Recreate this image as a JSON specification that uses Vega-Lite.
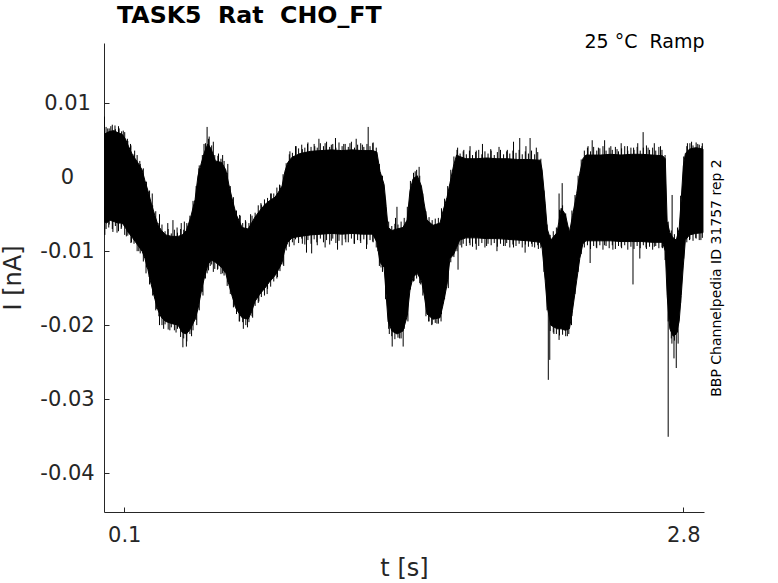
{
  "$schema": "https://vega.github.io/schema/vega-lite/v6.json",
  "autosize": {"type": "none"},
  "width": 600,
  "height": 469,
  "padding": {"left": 104, "top": 43, "right": 74, "bottom": 71},
  "background": "white",
  "config": {"view": {"stroke": null}, "font": "DejaVu Sans"},
  "title": {"text": "TASK5\u00a0 Rat\u00a0 CHO_FT", "anchor": "start", "frame": "group", "dx": 13, "fontSize": 23.7, "fontWeight": "bold", "font": "DejaVu Sans", "color": "black", "offset": -15, "baseline": "alphabetic"},
  "datasets": {
    "band": [
      {"t":0.003,"lo":-0.0060,"hi":0.0058},{"t":0.015,"lo":-0.0062,"hi":0.0060},{"t":0.03,"lo":-0.0058,"hi":0.0062},{"t":0.05,"lo":-0.0060,"hi":0.0063},{"t":0.07,"lo":-0.0062,"hi":0.0060},{"t":0.09,"lo":-0.0062,"hi":0.0058},{"t":0.105,"lo":-0.0068,"hi":0.0052},{"t":0.12,"lo":-0.0075,"hi":0.0042},{"t":0.14,"lo":-0.0082,"hi":0.0030},{"t":0.16,"lo":-0.0090,"hi":0.0022},{"t":0.186,"lo":-0.0100,"hi":0.0010},{"t":0.20,"lo":-0.0110,"hi":-0.0005},{"t":0.214,"lo":-0.0125,"hi":-0.0018},{"t":0.23,"lo":-0.0145,"hi":-0.0035},{"t":0.248,"lo":-0.0165,"hi":-0.0052},{"t":0.263,"lo":-0.0180,"hi":-0.0065},{"t":0.28,"lo":-0.0190,"hi":-0.0072},{"t":0.30,"lo":-0.0195,"hi":-0.0078},{"t":0.33,"lo":-0.0198,"hi":-0.0080},{"t":0.36,"lo":-0.0200,"hi":-0.0080},{"t":0.38,"lo":-0.0210,"hi":-0.0078},{"t":0.40,"lo":-0.0212,"hi":-0.0072},{"t":0.42,"lo":-0.0205,"hi":-0.0055},{"t":0.442,"lo":-0.0192,"hi":-0.0030},{"t":0.456,"lo":-0.0178,"hi":0.0002},{"t":0.475,"lo":-0.0150,"hi":0.0022},{"t":0.49,"lo":-0.0132,"hi":0.0036},{"t":0.504,"lo":-0.0118,"hi":0.0045},{"t":0.52,"lo":-0.0112,"hi":0.0038},{"t":0.54,"lo":-0.0115,"hi":0.0022},{"t":0.57,"lo":-0.0122,"hi":0.0020},{"t":0.59,"lo":-0.0130,"hi":0.0010},{"t":0.605,"lo":-0.0145,"hi":-0.0010},{"t":0.62,"lo":-0.0160,"hi":-0.0028},{"t":0.64,"lo":-0.0178,"hi":-0.0050},{"t":0.669,"lo":-0.0190,"hi":-0.0068},{"t":0.698,"lo":-0.0192,"hi":-0.0070},{"t":0.715,"lo":-0.0182,"hi":-0.0062},{"t":0.731,"lo":-0.0168,"hi":-0.0054},{"t":0.755,"lo":-0.0158,"hi":-0.0045},{"t":0.779,"lo":-0.0150,"hi":-0.0037},{"t":0.80,"lo":-0.0142,"hi":-0.0032},{"t":0.828,"lo":-0.0133,"hi":-0.0027},{"t":0.845,"lo":-0.0125,"hi":-0.0020},{"t":0.862,"lo":-0.0115,"hi":-0.0012},{"t":0.876,"lo":-0.0097,"hi":0.0008},{"t":0.89,"lo":-0.0088,"hi":0.0020},{"t":0.91,"lo":-0.0082,"hi":0.0027},{"t":0.949,"lo":-0.0080,"hi":0.0032},{"t":1.0,"lo":-0.0078,"hi":0.0035},{"t":1.05,"lo":-0.0077,"hi":0.0036},{"t":1.1,"lo":-0.0076,"hi":0.0037},{"t":1.15,"lo":-0.0077,"hi":0.0036},{"t":1.2,"lo":-0.0076,"hi":0.0037},{"t":1.25,"lo":-0.0077,"hi":0.0036},{"t":1.30,"lo":-0.0077,"hi":0.0036},{"t":1.32,"lo":-0.0088,"hi":0.0034},{"t":1.335,"lo":-0.0115,"hi":0.0008},{"t":1.355,"lo":-0.0122,"hi":-0.0010},{"t":1.365,"lo":-0.0160,"hi":-0.0040},{"t":1.374,"lo":-0.0195,"hi":-0.0068},{"t":1.393,"lo":-0.0208,"hi":-0.0072},{"t":1.417,"lo":-0.0212,"hi":-0.0070},{"t":1.446,"lo":-0.0208,"hi":-0.0068},{"t":1.466,"lo":-0.0188,"hi":-0.0058},{"t":1.48,"lo":-0.0152,"hi":-0.0018},{"t":1.495,"lo":-0.0135,"hi":-0.0002},{"t":1.515,"lo":-0.0130,"hi":0.0002},{"t":1.535,"lo":-0.0140,"hi":-0.0012},{"t":1.548,"lo":-0.0158,"hi":-0.0035},{"t":1.562,"lo":-0.0185,"hi":-0.0058},{"t":1.591,"lo":-0.0192,"hi":-0.0065},{"t":1.625,"lo":-0.0190,"hi":-0.0062},{"t":1.64,"lo":-0.0172,"hi":-0.0045},{"t":1.659,"lo":-0.0145,"hi":-0.0027},{"t":1.673,"lo":-0.0110,"hi":-0.0008},{"t":1.69,"lo":-0.0105,"hi":0.0015},{"t":1.705,"lo":-0.0095,"hi":0.0030},{"t":1.72,"lo":-0.0085,"hi":0.0028},{"t":1.75,"lo":-0.0082,"hi":0.0025},{"t":1.8,"lo":-0.0082,"hi":0.0025},{"t":1.85,"lo":-0.0083,"hi":0.0026},{"t":1.9,"lo":-0.0083,"hi":0.0025},{"t":1.95,"lo":-0.0084,"hi":0.0025},{"t":2.0,"lo":-0.0085,"hi":0.0024},{"t":2.05,"lo":-0.0086,"hi":0.0024},{"t":2.109,"lo":-0.0088,"hi":0.0023},{"t":2.118,"lo":-0.0095,"hi":0.0010},{"t":2.133,"lo":-0.0140,"hi":-0.0035},{"t":2.143,"lo":-0.0175,"hi":-0.0070},{"t":2.16,"lo":-0.0200,"hi":-0.0085},{"t":2.19,"lo":-0.0205,"hi":-0.0075},{"t":2.21,"lo":-0.0205,"hi":-0.0042},{"t":2.23,"lo":-0.0207,"hi":-0.0050},{"t":2.25,"lo":-0.0205,"hi":-0.0075},{"t":2.265,"lo":-0.0180,"hi":-0.0052},{"t":2.285,"lo":-0.0140,"hi":-0.0022},{"t":2.30,"lo":-0.0110,"hi":0.0005},{"t":2.315,"lo":-0.0090,"hi":0.0025},{"t":2.33,"lo":-0.0086,"hi":0.0030},{"t":2.4,"lo":-0.0086,"hi":0.0030},{"t":2.45,"lo":-0.0086,"hi":0.0031},{"t":2.5,"lo":-0.0087,"hi":0.0030},{"t":2.55,"lo":-0.0087,"hi":0.0031},{"t":2.6,"lo":-0.0087,"hi":0.0031},{"t":2.65,"lo":-0.0088,"hi":0.0030},{"t":2.7,"lo":-0.0088,"hi":0.0029},{"t":2.713,"lo":-0.0100,"hi":0.0025},{"t":2.722,"lo":-0.0160,"hi":-0.0060},{"t":2.735,"lo":-0.0205,"hi":-0.0075},{"t":2.751,"lo":-0.0215,"hi":-0.0082},{"t":2.766,"lo":-0.0212,"hi":-0.0085},{"t":2.78,"lo":-0.0195,"hi":-0.0070},{"t":2.79,"lo":-0.0160,"hi":-0.0030},{"t":2.80,"lo":-0.0120,"hi":0.0015},{"t":2.81,"lo":-0.0085,"hi":0.0032},{"t":2.83,"lo":-0.0078,"hi":0.0038},{"t":2.86,"lo":-0.0076,"hi":0.0040},{"t":2.895,"lo":-0.0075,"hi":0.0038}
    ],
    "noise": [
      {"t":0.012,"a":0.0068,"b":-0.0070},{"t":0.027,"a":0.0066,"b":-0.0064},{"t":0.042,"a":0.0071,"b":-0.0070},{"t":0.057,"a":0.0065,"b":-0.0066},{"t":0.072,"a":0.0069,"b":-0.0073},{"t":0.087,"a":0.0062,"b":-0.0068},{"t":0.102,"a":0.0061,"b":-0.0078},{"t":0.117,"a":0.0049,"b":-0.0079},{"t":0.132,"a":0.0043,"b":-0.0089},{"t":0.147,"a":0.0031,"b":-0.0090},{"t":0.162,"a":0.0030,"b":-0.0100},{"t":0.177,"a":0.0018,"b":-0.0103},{"t":0.192,"a":0.0012,"b":-0.0114},{"t":0.207,"a":-0.0006,"b":-0.0122},{"t":0.222,"a":-0.0018,"b":-0.0145},{"t":0.237,"a":-0.0038,"b":-0.0160},{"t":0.252,"a":-0.0046,"b":-0.0180},{"t":0.267,"a":-0.0062,"b":-0.0188},{"t":0.282,"a":-0.0064,"b":-0.0200},{"t":0.297,"a":-0.0073,"b":-0.0199},{"t":0.312,"a":-0.0070,"b":-0.0206},{"t":0.327,"a":-0.0076,"b":-0.0203},{"t":0.342,"a":-0.0071,"b":-0.0207},{"t":0.357,"a":-0.0075,"b":-0.0205},{"t":0.372,"a":-0.0070,"b":-0.0216},{"t":0.387,"a":-0.0071,"b":-0.0218},{"t":0.402,"a":-0.0062,"b":-0.0222},{"t":0.417,"a":-0.0052,"b":-0.0212},{"t":0.432,"a":-0.0032,"b":-0.0207},{"t":0.447,"a":-0.0012,"b":-0.0193},{"t":0.462,"a":0.0016,"b":-0.0180},{"t":0.477,"a":0.0030,"b":-0.0155},{"t":0.492,"a":0.0046,"b":-0.0137},{"t":0.507,"a":0.0052,"b":-0.0126},{"t":0.522,"a":0.0043,"b":-0.0118},{"t":0.537,"a":0.0030,"b":-0.0124},{"t":0.552,"a":0.0029,"b":-0.0124},{"t":0.567,"a":0.0025,"b":-0.0131},{"t":0.582,"a":0.0022,"b":-0.0133},{"t":0.597,"a":0.0006,"b":-0.0147},{"t":0.612,"a":-0.0012,"b":-0.0158},{"t":0.627,"a":-0.0027,"b":-0.0176},{"t":0.642,"a":-0.0045,"b":-0.0185},{"t":0.657,"a":-0.0051,"b":-0.0195},{"t":0.672,"a":-0.0062,"b":-0.0196},{"t":0.687,"a":-0.0060,"b":-0.0200},{"t":0.702,"a":-0.0062,"b":-0.0196},{"t":0.717,"a":-0.0052,"b":-0.0188},{"t":0.732,"a":-0.0048,"b":-0.0174},{"t":0.747,"a":-0.0038,"b":-0.0170},{"t":0.762,"a":-0.0037,"b":-0.0162},{"t":0.777,"a":-0.0030,"b":-0.0160},{"t":0.792,"a":-0.0028,"b":-0.0151},{"t":0.807,"a":-0.0022,"b":-0.0148},{"t":0.822,"a":-0.0022,"b":-0.0141},{"t":0.837,"a":-0.0014,"b":-0.0137},{"t":0.852,"a":-0.0011,"b":-0.0127},{"t":0.867,"a":0.0004,"b":-0.0118},{"t":0.882,"a":0.0019,"b":-0.0099},{"t":0.897,"a":0.0031,"b":-0.0094},{"t":0.912,"a":0.0033,"b":-0.0088},{"t":0.927,"a":0.0042,"b":-0.0084},{"t":0.942,"a":0.0039,"b":-0.0089},{"t":0.957,"a":0.0044,"b":-0.0083},{"t":0.972,"a":0.0040,"b":-0.0091},{"t":0.987,"a":0.0047,"b":-0.0085},{"t":1.002,"a":0.0041,"b":-0.0090},{"t":1.017,"a":0.0045,"b":-0.0084},{"t":1.032,"a":0.0040,"b":-0.0092},{"t":1.047,"a":0.0046,"b":-0.0083},{"t":1.062,"a":0.0042,"b":-0.0088},{"t":1.077,"a":0.0048,"b":-0.0085},{"t":1.092,"a":0.0041,"b":-0.0091},{"t":1.107,"a":0.0045,"b":-0.0083},{"t":1.122,"a":0.0040,"b":-0.0089},{"t":1.137,"a":0.0047,"b":-0.0086},{"t":1.152,"a":0.0042,"b":-0.0092},{"t":1.167,"a":0.0045,"b":-0.0084},{"t":1.182,"a":0.0041,"b":-0.0088},{"t":1.197,"a":0.0048,"b":-0.0083},{"t":1.212,"a":0.0040,"b":-0.0090},{"t":1.227,"a":0.0044,"b":-0.0085},{"t":1.242,"a":0.0046,"b":-0.0089},{"t":1.257,"a":0.0041,"b":-0.0084},{"t":1.272,"a":0.0045,"b":-0.0091},{"t":1.287,"a":0.0042,"b":-0.0085},{"t":1.302,"a":0.0047,"b":-0.0088},{"t":1.317,"a":0.0040,"b":-0.0095},{"t":1.332,"a":0.0018,"b":-0.0120},{"t":1.347,"a":0.0002,"b":-0.0128},{"t":1.362,"a":-0.0030,"b":-0.0165},{"t":1.377,"a":-0.0060,"b":-0.0205},{"t":1.392,"a":-0.0066,"b":-0.0215},{"t":1.407,"a":-0.0063,"b":-0.0219},{"t":1.422,"a":-0.0064,"b":-0.0217},{"t":1.437,"a":-0.0060,"b":-0.0218},{"t":1.452,"a":-0.0055,"b":-0.0205},{"t":1.467,"a":-0.0040,"b":-0.0186},{"t":1.482,"a":-0.0005,"b":-0.0152},{"t":1.497,"a":0.0006,"b":-0.0141},{"t":1.512,"a":0.0010,"b":-0.0137},{"t":1.527,"a":0.0002,"b":-0.0143},{"t":1.542,"a":-0.0022,"b":-0.0160},{"t":1.557,"a":-0.0046,"b":-0.0188},{"t":1.572,"a":-0.0054,"b":-0.0195},{"t":1.587,"a":-0.0058,"b":-0.0199},{"t":1.602,"a":-0.0056,"b":-0.0197},{"t":1.617,"a":-0.0055,"b":-0.0198},{"t":1.632,"a":-0.0042,"b":-0.0185},{"t":1.647,"a":-0.0029,"b":-0.0165},{"t":1.662,"a":-0.0012,"b":-0.0138},{"t":1.677,"a":0.0010,"b":-0.0115},{"t":1.692,"a":0.0028,"b":-0.0108},{"t":1.707,"a":0.0037,"b":-0.0100},{"t":1.722,"a":0.0032,"b":-0.0092},{"t":1.737,"a":0.0035,"b":-0.0090},{"t":1.752,"a":0.0031,"b":-0.0093},{"t":1.767,"a":0.0036,"b":-0.0089},{"t":1.782,"a":0.0030,"b":-0.0094},{"t":1.797,"a":0.0034,"b":-0.0090},{"t":1.812,"a":0.0037,"b":-0.0093},{"t":1.827,"a":0.0031,"b":-0.0089},{"t":1.842,"a":0.0035,"b":-0.0095},{"t":1.857,"a":0.0032,"b":-0.0090},{"t":1.872,"a":0.0036,"b":-0.0092},{"t":1.887,"a":0.0030,"b":-0.0089},{"t":1.902,"a":0.0034,"b":-0.0094},{"t":1.917,"a":0.0037,"b":-0.0090},{"t":1.932,"a":0.0031,"b":-0.0093},{"t":1.947,"a":0.0035,"b":-0.0089},{"t":1.962,"a":0.0032,"b":-0.0095},{"t":1.977,"a":0.0036,"b":-0.0091},{"t":1.992,"a":0.0033,"b":-0.0093},{"t":2.007,"a":0.0037,"b":-0.0090},{"t":2.022,"a":0.0031,"b":-0.0095},{"t":2.037,"a":0.0035,"b":-0.0091},{"t":2.052,"a":0.0032,"b":-0.0094},{"t":2.067,"a":0.0036,"b":-0.0090},{"t":2.082,"a":0.0031,"b":-0.0095},{"t":2.097,"a":0.0034,"b":-0.0092},{"t":2.112,"a":0.0025,"b":-0.0096},{"t":2.127,"a":-0.0018,"b":-0.0128},{"t":2.142,"a":-0.0064,"b":-0.0180},{"t":2.157,"a":-0.0078,"b":-0.0208},{"t":2.172,"a":-0.0073,"b":-0.0210},{"t":2.187,"a":-0.0068,"b":-0.0212},{"t":2.202,"a":-0.0044,"b":-0.0214},{"t":2.217,"a":-0.0038,"b":-0.0213},{"t":2.232,"a":-0.0049,"b":-0.0215},{"t":2.247,"a":-0.0068,"b":-0.0212},{"t":2.262,"a":-0.0045,"b":-0.0188},{"t":2.277,"a":-0.0024,"b":-0.0158},{"t":2.292,"a":0.0002,"b":-0.0128},{"t":2.307,"a":0.0024,"b":-0.0104},{"t":2.322,"a":0.0036,"b":-0.0095},{"t":2.337,"a":0.0040,"b":-0.0092},{"t":2.352,"a":0.0035,"b":-0.0097},{"t":2.367,"a":0.0041,"b":-0.0093},{"t":2.382,"a":0.0036,"b":-0.0096},{"t":2.397,"a":0.0039,"b":-0.0092},{"t":2.412,"a":0.0042,"b":-0.0098},{"t":2.427,"a":0.0036,"b":-0.0093},{"t":2.442,"a":0.0040,"b":-0.0096},{"t":2.457,"a":0.0037,"b":-0.0092},{"t":2.472,"a":0.0041,"b":-0.0097},{"t":2.487,"a":0.0035,"b":-0.0093},{"t":2.502,"a":0.0039,"b":-0.0096},{"t":2.517,"a":0.0042,"b":-0.0092},{"t":2.532,"a":0.0036,"b":-0.0098},{"t":2.547,"a":0.0040,"b":-0.0094},{"t":2.562,"a":0.0037,"b":-0.0097},{"t":2.577,"a":0.0041,"b":-0.0093},{"t":2.592,"a":0.0036,"b":-0.0096},{"t":2.607,"a":0.0040,"b":-0.0092},{"t":2.622,"a":0.0043,"b":-0.0097},{"t":2.637,"a":0.0037,"b":-0.0094},{"t":2.652,"a":0.0040,"b":-0.0098},{"t":2.667,"a":0.0036,"b":-0.0093},{"t":2.682,"a":0.0041,"b":-0.0096},{"t":2.697,"a":0.0037,"b":-0.0095},{"t":2.712,"a":0.0030,"b":-0.0112},{"t":2.727,"a":-0.0060,"b":-0.0195},{"t":2.742,"a":-0.0072,"b":-0.0218},{"t":2.757,"a":-0.0077,"b":-0.0221},{"t":2.772,"a":-0.0068,"b":-0.0210},{"t":2.787,"a":-0.0025,"b":-0.0170},{"t":2.802,"a":0.0028,"b":-0.0110},{"t":2.817,"a":0.0042,"b":-0.0088},{"t":2.832,"a":0.0046,"b":-0.0084},{"t":2.847,"a":0.0043,"b":-0.0086},{"t":2.862,"a":0.0047,"b":-0.0083},{"t":2.877,"a":0.0044,"b":-0.0085},{"t":2.892,"a":0.0046,"b":-0.0082}
    ],
    "spikes": [
      {"t":0.004,"a":0.0082,"b":0.004},{"t":0.02,"a":0.0066,"b":0.004},{"t":0.035,"a":0.0069,"b":0.004},{"t":0.055,"a":0.0070,"b":0.004},{"t":0.075,"a":0.0066,"b":0.004},{"t":0.095,"a":0.0063,"b":0.004},{"t":0.115,"a":0.0052,"b":0.003},{"t":0.13,"a":0.0045,"b":0.002},{"t":0.15,"a":0.0036,"b":0.001},{"t":0.175,"a":0.0022,"b":0.0},{"t":0.235,"a":-0.0022,"b":-0.005},{"t":0.27,"a":-0.0050,"b":-0.008},{"t":0.31,"a":-0.0062,"b":-0.009},{"t":0.335,"a":-0.0058,"b":-0.009},{"t":0.355,"a":-0.0068,"b":-0.009},{"t":0.375,"a":-0.0062,"b":-0.009},{"t":0.39,"a":-0.0060,"b":-0.009},{"t":0.46,"a":0.0012,"b":-0.002},{"t":0.485,"a":0.0045,"b":0.001},{"t":0.50,"a":0.0068,"b":0.002},{"t":0.51,"a":0.0055,"b":0.002},{"t":0.53,"a":0.0048,"b":0.001},{"t":0.555,"a":0.0032,"b":0.0},{"t":0.575,"a":0.0030,"b":0.0},{"t":0.60,"a":0.0018,"b":-0.001},{"t":0.66,"a":-0.0052,"b":-0.008},{"t":0.685,"a":-0.0058,"b":-0.008},{"t":0.71,"a":-0.0050,"b":-0.008},{"t":0.76,"a":-0.0035,"b":-0.006},{"t":0.81,"a":-0.0022,"b":-0.005},{"t":0.85,"a":-0.0010,"b":-0.004},{"t":0.90,"a":0.0035,"b":0.0},{"t":0.93,"a":0.0042,"b":0.001},{"t":0.96,"a":0.0038,"b":0.001},{"t":0.985,"a":0.0045,"b":0.001},{"t":1.02,"a":0.0042,"b":0.001},{"t":1.04,"a":0.0052,"b":0.001},{"t":1.07,"a":0.0046,"b":0.001},{"t":1.10,"a":0.0044,"b":0.001},{"t":1.12,"a":0.0053,"b":0.001},{"t":1.16,"a":0.0045,"b":0.001},{"t":1.19,"a":0.0046,"b":0.001},{"t":1.22,"a":0.0052,"b":0.001},{"t":1.25,"a":0.0044,"b":0.001},{"t":1.278,"a":0.0068,"b":0.001},{"t":1.30,"a":0.0046,"b":0.001},{"t":1.417,"a":-0.0040,"b":-0.008},{"t":1.41,"a":-0.0055,"b":-0.008},{"t":1.505,"a":0.0008,"b":-0.002},{"t":1.524,"a":0.0014,"b":-0.002},{"t":1.71,"a":0.0040,"b":0.0},{"t":1.74,"a":0.0037,"b":0.0},{"t":1.77,"a":0.0042,"b":0.0},{"t":1.80,"a":0.0036,"b":0.0},{"t":1.83,"a":0.0045,"b":0.0},{"t":1.87,"a":0.0038,"b":0.0},{"t":1.91,"a":0.0041,"b":0.0},{"t":1.95,"a":0.0037,"b":0.0},{"t":1.98,"a":0.0048,"b":0.0},{"t":2.01,"a":0.0053,"b":0.0},{"t":2.04,"a":0.0042,"b":0.0},{"t":2.06,"a":0.0053,"b":0.0},{"t":2.09,"a":0.0040,"b":0.0},{"t":2.215,"a":-0.0008,"b":-0.005},{"t":2.20,"a":-0.0022,"b":-0.006},{"t":2.34,"a":0.0042,"b":0.001},{"t":2.36,"a":0.0050,"b":0.001},{"t":2.39,"a":0.0040,"b":0.001},{"t":2.42,"a":0.0050,"b":0.001},{"t":2.45,"a":0.0042,"b":0.001},{"t":2.48,"a":0.0038,"b":0.001},{"t":2.50,"a":0.0046,"b":0.001},{"t":2.53,"a":0.0042,"b":0.001},{"t":2.56,"a":0.0040,"b":0.001},{"t":2.58,"a":0.0046,"b":0.001},{"t":2.606,"a":0.0061,"b":0.001},{"t":2.63,"a":0.0040,"b":0.001},{"t":2.66,"a":0.0046,"b":0.001},{"t":2.69,"a":0.0042,"b":0.001},{"t":2.746,"a":-0.0024,"b":-0.008},{"t":2.82,"a":0.0046,"b":0.002},{"t":2.84,"a":0.0048,"b":0.002},{"t":2.87,"a":0.0045,"b":0.002},{"t":2.89,"a":0.0042,"b":0.002},
      {"t":0.006,"a":-0.0078,"b":-0.004},{"t":0.025,"a":-0.0068,"b":-0.004},{"t":0.045,"a":-0.0074,"b":-0.004},{"t":0.065,"a":-0.0075,"b":-0.004},{"t":0.085,"a":-0.0070,"b":-0.004},{"t":0.11,"a":-0.0080,"b":-0.005},{"t":0.135,"a":-0.0088,"b":-0.006},{"t":0.17,"a":-0.0100,"b":-0.007},{"t":0.205,"a":-0.0130,"b":-0.009},{"t":0.22,"a":-0.0135,"b":-0.010},{"t":0.24,"a":-0.0145,"b":-0.012},{"t":0.255,"a":-0.0178,"b":-0.014},{"t":0.27,"a":-0.0200,"b":-0.016},{"t":0.29,"a":-0.0205,"b":-0.017},{"t":0.32,"a":-0.0207,"b":-0.017},{"t":0.35,"a":-0.0210,"b":-0.017},{"t":0.383,"a":-0.0230,"b":-0.018},{"t":0.40,"a":-0.0229,"b":-0.018},{"t":0.425,"a":-0.0215,"b":-0.017},{"t":0.45,"a":-0.0200,"b":-0.016},{"t":0.48,"a":-0.0160,"b":-0.012},{"t":0.50,"a":-0.0130,"b":-0.010},{"t":0.515,"a":-0.0120,"b":-0.009},{"t":0.53,"a":-0.0128,"b":-0.009},{"t":0.55,"a":-0.0125,"b":-0.009},{"t":0.575,"a":-0.0130,"b":-0.010},{"t":0.60,"a":-0.0142,"b":-0.011},{"t":0.63,"a":-0.0175,"b":-0.013},{"t":0.655,"a":-0.0195,"b":-0.016},{"t":0.675,"a":-0.0205,"b":-0.017},{"t":0.695,"a":-0.0203,"b":-0.017},{"t":0.72,"a":-0.0190,"b":-0.016},{"t":0.75,"a":-0.0168,"b":-0.014},{"t":0.79,"a":-0.0158,"b":-0.013},{"t":0.84,"a":-0.0135,"b":-0.011},{"t":0.87,"a":-0.0120,"b":-0.009},{"t":0.92,"a":-0.0092,"b":-0.006},{"t":0.96,"a":-0.0090,"b":-0.006},{"t":0.98,"a":-0.0102,"b":-0.006},{"t":1.005,"a":-0.0103,"b":-0.006},{"t":1.03,"a":-0.0088,"b":-0.006},{"t":1.07,"a":-0.0095,"b":-0.006},{"t":1.10,"a":-0.0086,"b":-0.006},{"t":1.13,"a":-0.0098,"b":-0.006},{"t":1.17,"a":-0.0088,"b":-0.006},{"t":1.21,"a":-0.0090,"b":-0.006},{"t":1.24,"a":-0.0086,"b":-0.006},{"t":1.27,"a":-0.0097,"b":-0.006},{"t":1.30,"a":-0.0087,"b":-0.006},{"t":1.325,"a":-0.0100,"b":-0.007},{"t":1.34,"a":-0.0122,"b":-0.009},{"t":1.38,"a":-0.0212,"b":-0.018},{"t":1.394,"a":-0.0229,"b":-0.019},{"t":1.43,"a":-0.0218,"b":-0.019},{"t":1.447,"a":-0.0229,"b":-0.019},{"t":1.47,"a":-0.0195,"b":-0.016},{"t":1.50,"a":-0.0140,"b":-0.011},{"t":1.53,"a":-0.0145,"b":-0.012},{"t":1.57,"a":-0.0195,"b":-0.017},{"t":1.585,"a":-0.0200,"b":-0.017},{"t":1.61,"a":-0.0198,"b":-0.017},{"t":1.63,"a":-0.0195,"b":-0.017},{"t":1.665,"a":-0.0150,"b":-0.012},{"t":1.712,"a":-0.0125,"b":-0.008},{"t":1.73,"a":-0.0095,"b":-0.007},{"t":1.77,"a":-0.0092,"b":-0.007},{"t":1.80,"a":-0.0098,"b":-0.007},{"t":1.85,"a":-0.0093,"b":-0.007},{"t":1.90,"a":-0.0100,"b":-0.007},{"t":1.94,"a":-0.0093,"b":-0.007},{"t":1.98,"a":-0.0095,"b":-0.007},{"t":2.036,"a":-0.0102,"b":-0.007},{"t":2.07,"a":-0.0094,"b":-0.007},{"t":2.10,"a":-0.0097,"b":-0.007},{"t":2.148,"a":-0.0274,"b":-0.018},{"t":2.155,"a":-0.0247,"b":-0.018},{"t":2.175,"a":-0.0212,"b":-0.018},{"t":2.20,"a":-0.0220,"b":-0.018},{"t":2.24,"a":-0.0215,"b":-0.018},{"t":2.26,"a":-0.0200,"b":-0.016},{"t":2.35,"a":-0.0116,"b":-0.008},{"t":2.38,"a":-0.0095,"b":-0.007},{"t":2.42,"a":-0.0092,"b":-0.007},{"t":2.46,"a":-0.0098,"b":-0.007},{"t":2.50,"a":-0.0094,"b":-0.007},{"t":2.557,"a":-0.0145,"b":-0.008},{"t":2.59,"a":-0.0110,"b":-0.007},{"t":2.62,"a":-0.0095,"b":-0.007},{"t":2.66,"a":-0.0094,"b":-0.007},{"t":2.70,"a":-0.0096,"b":-0.007},{"t":2.727,"a":-0.0351,"b":-0.015},{"t":2.745,"a":-0.0225,"b":-0.019},{"t":2.755,"a":-0.0245,"b":-0.019},{"t":2.766,"a":-0.0258,"b":-0.019},{"t":2.775,"a":-0.0225,"b":-0.018},{"t":2.83,"a":-0.0085,"b":-0.006},{"t":2.86,"a":-0.0082,"b":-0.006},{"t":2.885,"a":-0.0085,"b":-0.006}
    ]
  },
  "resolve": {"axis": {"x": "independent", "y": "independent"}},
  "layer": [
    {
      "data": {"name": "band"},
      "mark": {"type": "area", "color": "black", "stroke": "black", "strokeWidth": 1, "interpolate": "linear", "clip": true},
      "encoding": {
        "x": {"field": "t", "type": "quantitative",
          "scale": {"domain": [0.002, 2.9], "nice": false, "zero": false},
          "axis": {"orient": "bottom", "values": [0.1, 2.8], "format": ".1f", "grid": false, "title": "t [s]",
            "domainColor": "#262626", "tickColor": "#262626", "tickSize": -5, "labelPadding": 17,
            "labelFont": "DejaVu Sans", "labelFontSize": 21, "labelColor": "#262626",
            "titleFont": "DejaVu Sans", "titleFontSize": 24, "titleFontWeight": "normal", "titleColor": "#262626", "titlePadding": 11}},
        "y": {"field": "lo", "type": "quantitative",
          "scale": {"domain": [-0.04527, 0.01815], "nice": false, "zero": false},
          "axis": {"orient": "left", "values": [-0.04, -0.03, -0.02, -0.01, 0, 0.01], "labelExpr": "'' + datum.value", "grid": false, "title": "I [nA]",
            "domainColor": "#262626", "tickColor": "#262626", "tickSize": -5, "labelPadding": 42, "labelAlign": "center", "labelBaseline": "middle",
            "labelFont": "DejaVu Sans", "labelFontSize": 21, "labelColor": "#262626",
            "titleFont": "DejaVu Sans", "titleFontSize": 24, "titleFontWeight": "normal", "titleColor": "#262626", "titlePadding": 14}},
        "y2": {"field": "hi"}
      }
    },
    {
      "data": {"name": "noise"},
      "mark": {"type": "rule", "color": "black", "strokeWidth": 1, "clip": true},
      "encoding": {
        "x": {"field": "t", "type": "quantitative", "scale": {"domain": [0.002, 2.9], "nice": false, "zero": false}, "axis": null},
        "y": {"field": "a", "type": "quantitative", "scale": {"domain": [-0.04527, 0.01815], "nice": false, "zero": false}, "axis": null},
        "y2": {"field": "b"}
      }
    },
    {
      "data": {"name": "spikes"},
      "mark": {"type": "rule", "color": "black", "strokeWidth": 1, "clip": true},
      "encoding": {
        "x": {"field": "t", "type": "quantitative",
          "scale": {"domain": [0.002, 2.9], "nice": false, "zero": false},
          "axis": {"orient": "top", "title": "25 °C\u00a0 Ramp", "labels": false, "ticks": false, "domain": false, "grid": false,
            "titleAnchor": "end", "titleFont": "DejaVu Sans", "titleFontSize": 19, "titleFontWeight": "normal", "titleColor": "black", "titleBaseline": "alphabetic", "titlePadding": -4}},
        "y": {"field": "a", "type": "quantitative",
          "scale": {"domain": [-0.04527, 0.01815], "nice": false, "zero": false},
          "axis": {"orient": "right", "title": "BBP Channelpedia ID 31757 rep 2", "labels": false, "ticks": false, "domain": false, "grid": false,
            "titleAngle": 270, "titleFont": "DejaVu Sans", "titleFontSize": 14, "titleFontWeight": "normal", "titleColor": "black", "titleBaseline": "top", "titlePadding": 5}},
        "y2": {"field": "b"}
      }
    }
  ]
}
